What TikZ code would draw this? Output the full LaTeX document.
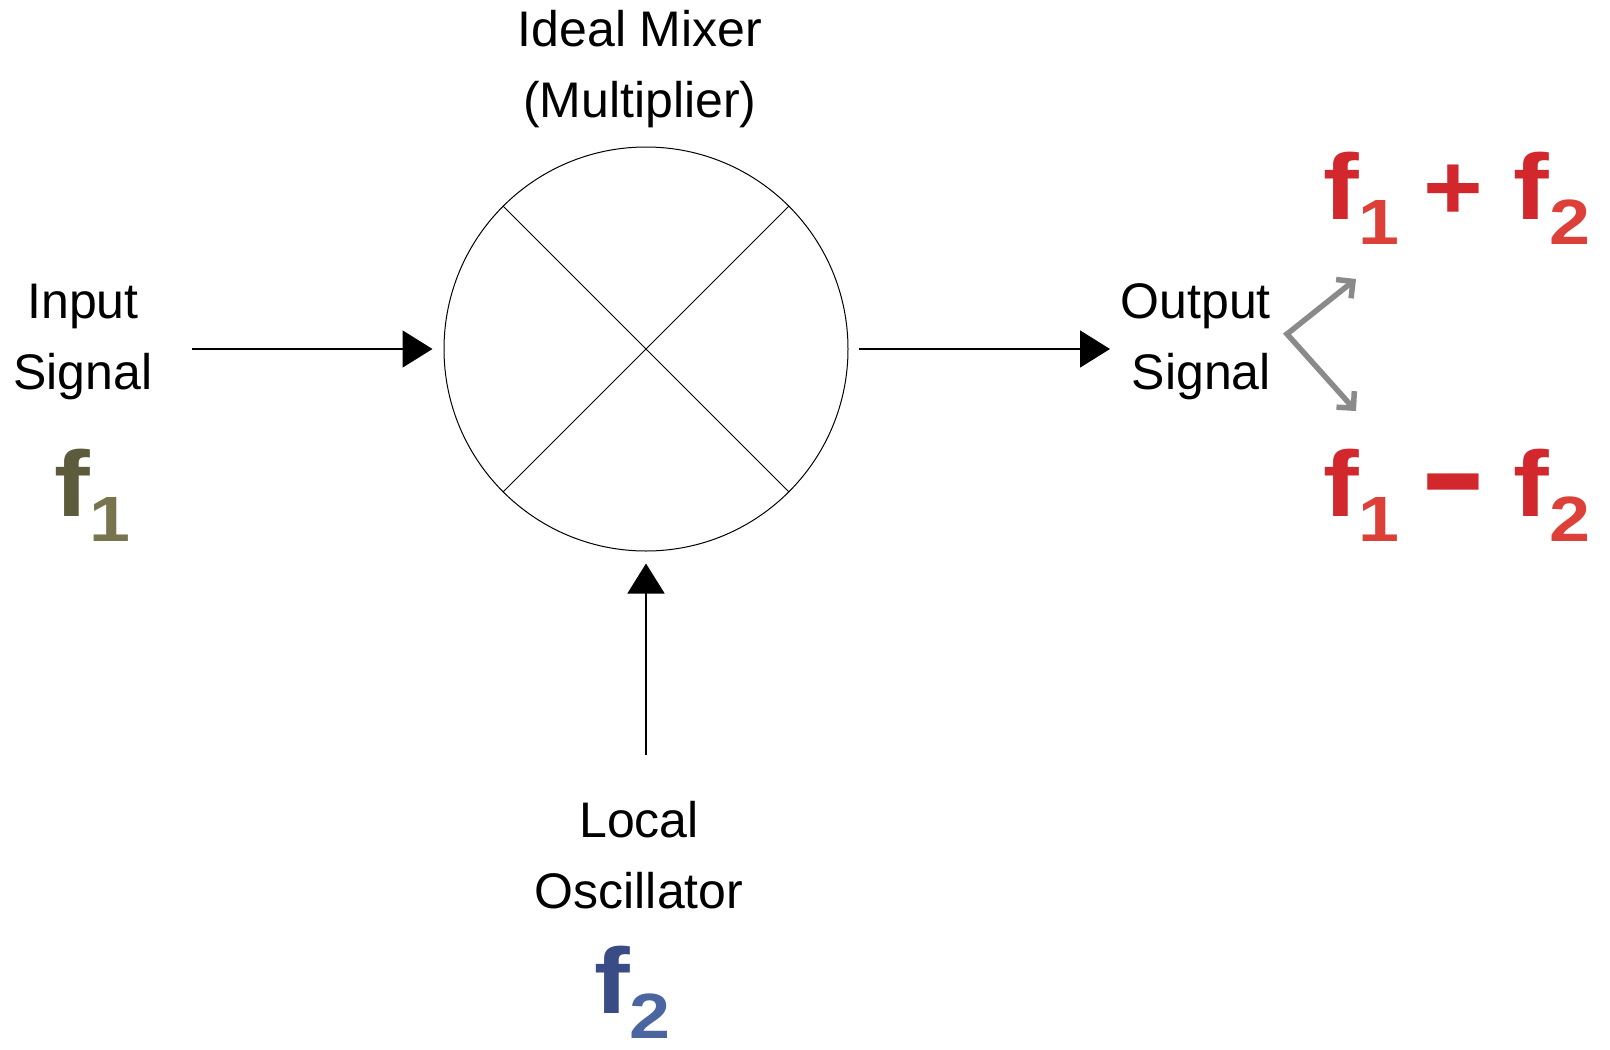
\documentclass[tikz,border=0pt]{standalone}
\usepackage{fontspec}
\setmainfont{Liberation Sans}
\usetikzlibrary{arrows.meta}
\definecolor{olivef}{HTML}{5C5B3B}
\definecolor{olives}{HTML}{77744F}
\definecolor{bluef}{HTML}{3A4C85}
\definecolor{blues}{HTML}{4B65A0}
\definecolor{redf}{HTML}{D1272D}
\definecolor{reds}{HTML}{DC4039}
\definecolor{splitgray}{HTML}{8A8A8A}
\newcommand\BigF[2]{{\color{#1}\fontsize{93}{93}\selectfont\bfseries\scalebox{1.15}[1]{f}}}
\newcommand\SubN[2]{\raisebox{-25pt}{\color{#1}\fontsize{64}{64}\selectfont\bfseries\scalebox{1.15}[1]{#2}}}
\begin{document}
\begin{tikzpicture}[x=1pt,y=-1pt,
  conn/.style={line width=1.6pt, -{Triangle[length=30pt,width=37pt]}},
  lbl/.style={font=\fontsize{50}{71}\selectfont, inner sep=0pt},
  freq/.style={anchor=base west, inner sep=0pt},
  splitarrow/.style={draw=splitgray, line width=5.5pt, line join=miter,
    {Straight Barb[length=12pt,width=24pt]}-{Straight Barb[length=12pt,width=24pt]}}
]
\useasboundingbox (0,0) rectangle (1610,1050);
% mixer
\node[circle, draw, line width=1pt, minimum size=404pt, inner sep=0pt] (mix) at (646,349) {};
\draw[line width=1pt] (mix.45) -- (mix.225);
\draw[line width=1pt] (mix.135) -- (mix.315);
% labels
\node[lbl, align=center] (mixlbl) at (640,69) {Ideal Mixer\\(Multiplier)};
\node[lbl, align=center] (inlbl) at (83,342) {Input\\Signal};
\node[lbl, align=right, anchor=east] (outlbl) at (1271,342) {Output\\Signal};
\node[lbl, align=center] (lolbl) at (639,855) {Local\\Oscillator};
% connectors
\coordinate (inS) at (192,349);
\coordinate (outE) at (1110,349);
\coordinate (loS) at (646,755);
\draw[conn, shorten >=11pt] (inS) -- (mix.west);
\draw[conn, shorten <=10pt] (mix.east) -- (outE);
\draw[conn, shorten >=12pt] (loS) -- (mix.south);
% split arrows
\coordinate (apex) at (1287,334);
\coordinate (upE) at (1356,279);
\coordinate (dnE) at (1356,411);
\draw[splitarrow] (upE) -- (apex) -- (dnE);
% frequencies
\node[freq] (f1) at (54,516) {\BigF{olivef}{f}\SubN{olives}{1}};
\node[freq] (f2) at (594,1013) {\BigF{bluef}{f}\SubN{blues}{2}};
\node[freq] (fsum) at (1323,219) {\BigF{redf}{f}\SubN{reds}{1}\hspace{24pt}{\color{redf}\fontsize{93}{93}\selectfont\bfseries\scalebox{1.1}[1]{+}}\hspace{30pt}\BigF{redf}{f}\SubN{reds}{2}};
\node[freq] (fdif) at (1323,516) {\BigF{redf}{f}\SubN{reds}{1}\hspace{24pt}\raisebox{-15pt}{\color{redf}\fontsize{93}{93}\selectfont\bfseries\scalebox{1.1}[1.6]{−}}\hspace{30pt}\BigF{redf}{f}\SubN{reds}{2}};
\end{tikzpicture}
\end{document}
